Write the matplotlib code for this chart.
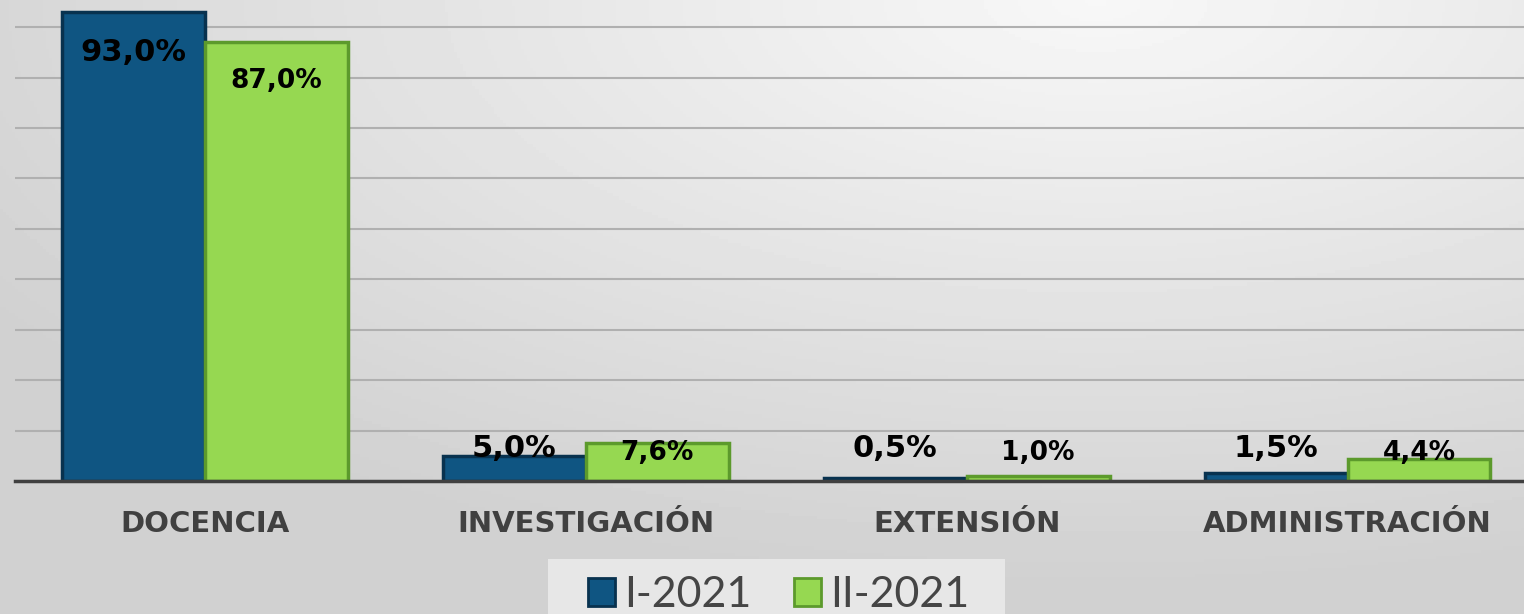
import numpy as np
import matplotlib.pyplot as plt
from matplotlib.patches import Patch, Rectangle

categories = ["DOCENCIA", "INVESTIGACIÓN", "EXTENSIÓN", "ADMINISTRACIÓN"]
series_names = ["I-2021", "II-2021"]
vals_i = [93.0, 5.0, 0.5, 1.5]
vals_ii = [87.0, 7.6, 1.0, 4.4]

blue = "#0f5582"
green = "#96d851"


def fmt(v):
    return ("%.1f%%" % v).replace(".", ",")


if __name__ == "__main__":
    fig = plt.figure(figsize=(15.24, 6.14), dpi=100)

    # gray gradient background, brightest near the top right
    bg = fig.add_axes([0, 0, 1, 1], zorder=-1)
    yy, xx = np.mgrid[0:1:200j, 0:1:500j]
    d = np.sqrt(((xx - 0.72) * 1.0) ** 2 + ((yy - 0.0) * 0.9) ** 2)
    g = 0.97 - 0.15 * np.clip(d / 0.85, 0, 1)
    bg.imshow(g, cmap="gray", vmin=0, vmax=1, aspect="auto", extent=(0, 1, 1, 0))
    bg.axis("off")

    # lighter box behind the legend
    fig.patches.append(Rectangle((548 / 1524, 0), 457 / 1524, 55 / 614,
                                 transform=fig.transFigure, facecolor="#e7e7e7",
                                 edgecolor="none", zorder=0))

    ax = fig.add_axes([14.5 / 1524, 133 / 614, 1523.5 / 1524, 481 / 614])
    ax.set_facecolor("none")
    x = np.arange(len(categories))
    w = 0.375
    ax.bar(x - w / 2, vals_i, w, color=blue, edgecolor="#08324f", linewidth=2.5, zorder=3)
    ax.bar(x + w / 2, vals_ii, w, color=green, edgecolor="#5c9a2c", linewidth=2.5, zorder=3)

    ax.set_xlim(-0.5, 3.5)
    ax.set_ylim(0, 95.4)
    ax.set_yticks(np.arange(10, 100, 10))
    ax.yaxis.grid(True, color="#b0b0b0", linewidth=1.5, zorder=0)
    ax.set_yticklabels([])
    ax.tick_params(axis="y", length=0)
    for s in ["top", "right", "left"]:
        ax.spines[s].set_visible(False)
    ax.spines["bottom"].set_color("#404040")
    ax.spines["bottom"].set_linewidth(2.5)
    ax.spines["bottom"].set_zorder(4)

    ax.set_xticks(x)
    ax.set_xticklabels(categories, fontsize=21, fontweight="bold", color="#404040",
                       family="DejaVu Sans")
    ax.tick_params(axis="x", length=0, pad=21)

    for xi, v in zip(x, vals_i):
        y = v - 8.0 if v > 20 else 6.5
        ax.text(xi - w / 2, y, fmt(v), ha="center", va="center", fontsize=22,
                fontweight="bold", family="DejaVu Sans", color="black", zorder=5)
    for xi, v in zip(x, vals_ii):
        y = v - 7.7 if v > 20 else 5.6
        ax.text(xi + w / 2, y, fmt(v), ha="center", va="center", fontsize=19,
                fontweight="bold", family="DejaVu Sans", color="black", zorder=5)

    handles = [Patch(facecolor=blue, edgecolor="#08324f", linewidth=2),
               Patch(facecolor=green, edgecolor="#5c9a2c", linewidth=2)]
    leg = fig.legend(handles, series_names, loc="lower center", bbox_to_anchor=(0.511, 0.0),
                     ncol=2, frameon=False, handlelength=0.62, handleheight=0.62,
                     handletextpad=0.22, columnspacing=1.0, borderpad=0.0,
                     borderaxespad=0.0, prop={"family": "Lato", "size": 31})
    for t in leg.get_texts():
        t.set_color("#454545")

    fig.savefig("out.png", dpi=100)
